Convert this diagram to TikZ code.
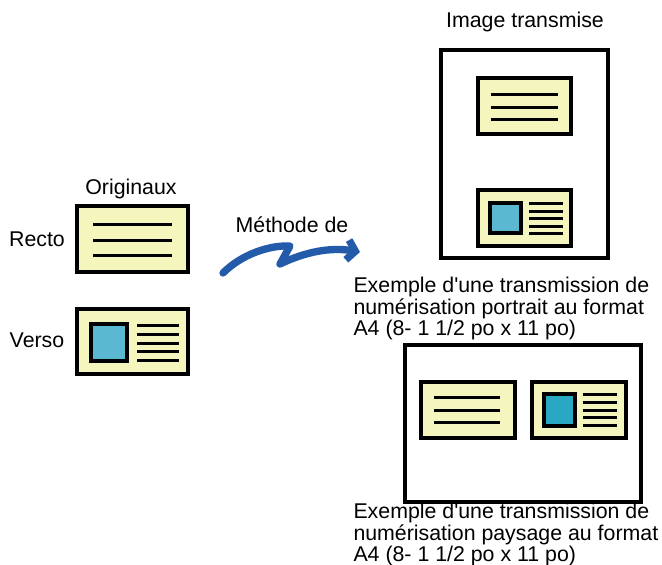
\documentclass[tikz,border=0pt]{standalone}
\usepackage{fontspec}
\setmainfont{Liberation Sans}
\usetikzlibrary{arrows.meta}

\definecolor{cardyellow}{RGB}{245,245,190}
\definecolor{photoblue}{RGB}{90,185,208}
\definecolor{phototeal}{RGB}{40,168,195}
\definecolor{arrowblue}{RGB}{35,90,170}

\tikzset{every picture/.style={line width=0.75pt}}
\tikzset{
  page/.style={draw, line width=2.5pt},
  card/.style={draw, fill=cardyellow, line width=2.75pt},
  photo/.style={draw, line width=2.5pt},
  txtline/.style={line width=2.25pt},
  captxt/.style={anchor=north west, inner sep=0pt, align=left, font=\fontsize{16}{14}\selectfont},
  lbl/.style={anchor=base, inner sep=0pt, font=\fontsize{16}{15}\selectfont}
}

\begin{document}
\begin{tikzpicture}[x=0.75pt,y=0.75pt,yscale=-1,xscale=1]
\useasboundingbox (0,0) rectangle (662,565);

%Shape: Card, recto original
\draw [card] (77,206) rectangle (188,272);
\draw [txtline] (93,224) -- (172,224) (93,240) -- (172,240) (93,255) -- (172,255);
%Shape: Card, verso original
\draw [card] (77,309) rectangle (188,374);
\draw [photo, fill=photoblue] (91,324) rectangle (127,361);
\draw [txtline] (137,325) -- (179,325) (137,334) -- (179,334) (137,343) -- (179,343) (137,351) -- (179,351) (137,360) -- (179,360);

%Shape: Portrait page
\draw [page] (441,50) rectangle (608,258);
\draw [card] (478,78) rectangle (571,134);
\draw [txtline] (491,94) -- (558,94) (491,107) -- (558,107) (491,119) -- (558,119);
\draw [card] (478,190) rectangle (571,246);
\draw [photo, fill=photoblue] (490,203) rectangle (521,233);
\draw [txtline] (529,203) -- (563,203) (529,211) -- (563,211) (529,218) -- (563,218) (529,226) -- (563,226) (529,233) -- (563,233);

%Shape: Landscape page
\draw [page] (405,345) rectangle (641,502);
\draw [card] (421,382) rectangle (515,438);
\draw [txtline] (434,397) -- (500,397) (434,410) -- (500,410) (434,422) -- (500,422);
\draw [card] (532,382) rectangle (626,438);
\draw [photo, fill=phototeal] (544,394) rectangle (575,426);
\draw [txtline] (583,394) -- (617,394) (583,402) -- (617,402) (583,410) -- (617,410) (583,417) -- (617,417) (583,425) -- (617,425);

%Curve: squiggle arrow
\coordinate (arrstart) at (223,273);
\coordinate (arrend) at (360,252);
\draw [color=arrowblue, line width=5.5pt, line join=round, line cap=round, -{Straight Barb[length=6pt,width=15pt]}]
  (arrstart) .. controls (242,254) and (270,245) .. (290,246) -- (280,264) .. controls (305,252) and (330,247) .. (arrend);

% Text Node
\node [lbl] (originaux) at (131,194) {Originaux};
% Text Node
\node [lbl] (recto) at (37,246) {Recto};
% Text Node
\node [lbl] (verso) at (37,347) {Verso};
% Text Node
\node [lbl] (methode) at (292,232) {Méthode de};
% Text Node
\node [lbl] (imgtrans) at (525,27) {Image transmise};
% Text Node
\node [captxt] (portrait) at (353,277) {Exemple d\textquotesingle une transmission de\\numérisation portrait au format\\A4 (8- 1 1/2 po x 11 po)};
% Text Node
\node [captxt] (paysage) at (353,503) {Exemple d\textquotesingle une transmission de\\numérisation paysage au format\\A4 (8- 1 1/2 po x 11 po)};

\end{tikzpicture}
\end{document}
